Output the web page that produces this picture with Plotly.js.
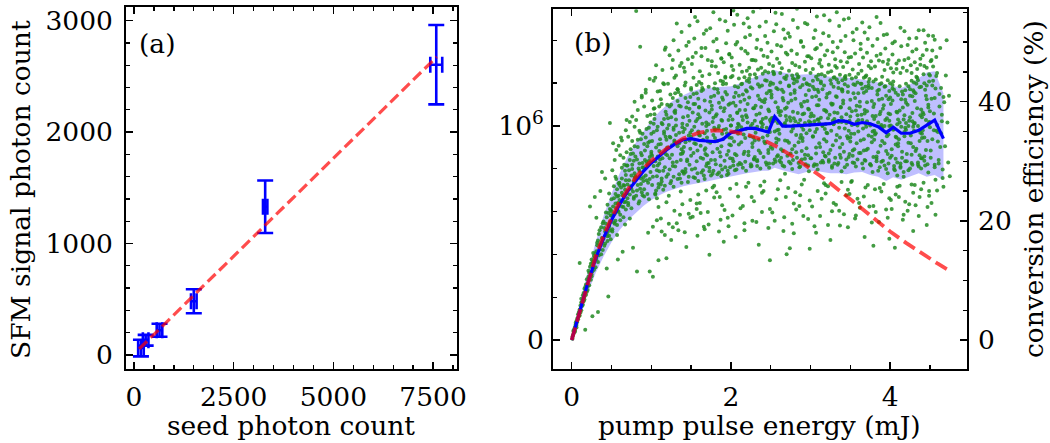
<!DOCTYPE html>
<html>
<head>
<meta charset="utf-8">
<script src="https://cdn.plot.ly/plotly-3.0.1.min.js"></script>
<style>html,body{margin:0;padding:0;background:#fff;}#chart{width:1050px;height:443px;}</style>
</head>
<body>
<div id="chart"></div>
<script>
// ---------- panel (a) data ----------
const seedX    = [175, 293, 640, 1500, 3290, 7580];
const seedXerr = [70, 70, 70, 70, 55, 150];
const sfmY     = [62, 132, 222, 482, 1330, 2605];
const sfmYerr  = [75, 48, 58, 108, 236, 356];
const fitX = [130, 7590];
const fitY = [54, 2675];
const aXTicks = [0, 2500, 5000, 7500];
const aXText  = ['0', '2500', '5000', '7500'];
const aYTicks = [0, 1000, 2000, 3000];
const aYText  = ['0', '1000', '2000', '3000'];

// ---------- panel (b) data (efficiency in %) ----------
const blueX = [0,0.1,0.2,0.3,0.4,0.5,0.6,0.7,0.8,0.9,1.0,1.1,1.2,1.3,1.4,1.5,1.6,1.7,1.8,1.9,2.0,2.1,2.2,2.3,2.4,
  2.47,2.55,2.65,2.75,2.85,2.95,3.05,3.15,3.25,3.35,3.45,3.55,3.65,3.75,3.85,3.95,
  4.04,4.14,4.25,4.36,4.46,4.56,4.67];
const blueY = [0,4.8,9.5,13.6,17.1,20.1,22.7,24.9,26.7,28.3,29.7,30.9,32.0,32.9,33.6,33.8,33.5,33.4,33.3,33.7,34.8,35.1,35.5,35.5,35.1,
  34.9,37.5,35.9,35.9,36.0,36.1,36.2,36.2,36.3,36.8,36.7,36.2,36.5,36.3,35.8,34.8,
  35.7,34.7,34.7,35.2,36.0,36.9,33.8];
const bandHi = [0.3,5.9,11.4,16.4,20.8,24.6,27.9,30.7,33.0,35.0,36.8,38.3,39.5,40.4,41.1,41.7,42.1,42.3,42.4,42.5,42.6,43.0,43.6,44.2,44.7,
  44.9,45.3,44.9,44.7,44.5,44.6,44.6,44.4,44.2,44.2,44.1,43.9,43.7,43.5,43.2,42.9,
  42.6,42.3,42.9,44.0,44.9,45.1,41.4];
const bandLo = [-0.2,3.9,7.8,11.2,14.0,16.4,18.4,20.0,21.3,22.5,23.5,24.3,24.9,25.4,25.8,26.1,26.3,26.6,26.9,27.2,27.5,27.8,28.0,28.2,28.4,
  28.4,28.9,28.5,28.2,27.8,28.2,28.4,28.2,28.0,28.0,27.8,28.1,28.2,27.7,27.4,26.7,
  27.3,26.9,27.5,28.0,27.4,27.7,26.8];
const redX = [0,0.1,0.2,0.3,0.4,0.5,0.6,0.7,0.8,0.9,1.0,1.2,1.4,1.6,1.8,2.0,2.2,2.4,2.6,2.8,3.0,3.2,3.4,3.6,3.8,4.0,4.2,4.4,4.6,4.75];
const redY = [0,4.8,9.6,14.0,17.5,20.5,23.1,25.3,27.2,28.8,30.1,32.2,33.8,34.8,35.2,35.0,34.5,33.6,32.3,30.6,28.7,26.8,24.7,22.5,20.3,18.2,16.3,14.5,12.8,11.6];

// scattered shots (wide spread, incl. outliers)
const greenX = [
  0.01,0.02,0.02,0.03,0.04,0.04,0.05,0.06,0.06,0.07,0.08,0.08,0.09,0.10,
  0.10,0.11,0.12,0.12,0.13,0.14,0.14,0.15,0.16,0.16,0.17,0.18,0.19,0.19,
  0.20,0.21,0.22,0.23,0.23,0.24,0.25,0.25,0.26,0.26,0.27,0.28,0.29,0.29,
  0.30,0.31,0.31,0.32,0.33,0.33,0.34,0.35,0.35,0.36,0.37,0.38,0.38,0.39,
  0.40,0.41,0.42,0.42,0.43,0.44,0.45,0.45,0.46,0.47,0.47,0.48,0.49,0.49,
  0.50,0.51,0.52,0.52,0.53,0.54,0.55,0.55,0.56,0.57,0.57,0.58,0.59,0.59,
  0.60,0.61,0.62,0.63,0.63,0.64,0.65,0.65,0.66,0.67,0.68,0.68,0.69,0.69,
  0.70,0.71,0.72,0.73,0.73,0.74,0.75,0.76,0.76,0.77,0.78,0.78,0.79,0.79,
  0.80,0.81,0.82,0.82,0.83,0.84,0.85,0.85,0.86,0.87,0.87,0.88,0.89,0.89,
  0.90,0.91,0.91,0.92,0.93,0.94,0.94,0.95,0.96,0.96,0.97,0.98,0.98,0.99,
  1.00,1.01,1.02,1.03,1.03,1.04,1.05,1.05,1.06,1.07,1.07,1.08,1.08,1.09,1.09,1.10,
  1.10,1.11,1.12,1.13,1.13,1.14,1.15,1.15,1.16,1.17,1.17,1.18,1.18,1.19,1.19,1.20,
  1.20,1.21,1.22,1.23,1.23,1.24,1.25,1.25,1.26,1.27,1.27,1.28,1.28,1.29,1.29,1.30,
  1.30,1.31,1.32,1.33,1.33,1.34,1.35,1.35,1.36,1.37,1.37,1.38,1.38,1.39,1.39,1.40,
  1.40,1.41,1.42,1.43,1.43,1.44,1.45,1.45,1.46,1.47,1.47,1.48,1.48,1.49,1.49,1.50,
  1.50,1.51,1.52,1.53,1.53,1.54,1.55,1.55,1.56,1.57,1.57,1.58,1.58,1.59,1.59,1.60,
  1.60,1.61,1.62,1.63,1.63,1.64,1.65,1.65,1.66,1.67,1.67,1.68,1.68,1.69,1.69,1.70,
  1.70,1.71,1.72,1.73,1.73,1.74,1.75,1.75,1.76,1.77,1.77,1.78,1.78,1.79,1.79,1.80,
  1.80,1.81,1.82,1.83,1.83,1.84,1.85,1.85,1.86,1.87,1.87,1.88,1.88,1.89,1.89,1.90,
  1.90,1.91,1.92,1.93,1.93,1.94,1.95,1.95,1.96,1.97,1.97,1.98,1.98,1.99,1.99,2.00,
  2.00,2.01,2.02,2.03,2.03,2.04,2.05,2.05,2.06,2.07,2.07,2.08,2.08,2.09,2.09,2.10,
  2.10,2.11,2.12,2.13,2.13,2.14,2.15,2.15,2.16,2.17,2.17,2.18,2.18,2.19,2.19,2.20,
  2.20,2.21,2.22,2.23,2.23,2.24,2.25,2.25,2.26,2.27,2.27,2.28,2.28,2.29,2.29,2.30,
  2.30,2.31,2.32,2.33,2.33,2.34,2.35,2.35,2.36,2.37,2.37,2.38,2.38,2.39,2.39,2.40,
  2.40,2.41,2.42,2.43,2.43,2.44,2.45,2.45,2.46,2.47,2.47,2.48,2.48,2.49,2.49,2.50,
  2.50,2.51,2.52,2.53,2.53,2.54,2.55,2.55,2.56,2.57,2.57,2.58,2.58,2.59,2.59,2.60,
  2.60,2.61,2.62,2.63,2.63,2.64,2.65,2.65,2.66,2.67,2.67,2.68,2.68,2.69,2.69,2.70,
  2.70,2.71,2.72,2.73,2.73,2.74,2.75,2.75,2.76,2.77,2.77,2.78,2.78,2.79,2.79,2.80,
  2.80,2.81,2.82,2.83,2.83,2.84,2.85,2.85,2.86,2.87,2.87,2.88,2.88,2.89,2.89,2.90,
  2.90,2.91,2.92,2.93,2.93,2.94,2.95,2.95,2.96,2.97,2.97,2.98,2.98,2.99,2.99,3.00,
  3.00,3.01,3.02,3.03,3.03,3.04,3.05,3.05,3.06,3.07,3.07,3.08,3.08,3.09,3.09,3.10,
  3.10,3.11,3.12,3.13,3.13,3.14,3.15,3.15,3.16,3.17,3.17,3.18,3.18,3.19,3.19,3.20,
  3.20,3.21,3.22,3.23,3.23,3.24,3.25,3.25,3.26,3.27,3.27,3.28,3.28,3.29,3.29,3.30,
  3.30,3.31,3.32,3.33,3.33,3.34,3.35,3.35,3.36,3.37,3.37,3.38,3.38,3.39,3.39,3.40,
  3.40,3.41,3.42,3.43,3.43,3.44,3.45,3.45,3.46,3.47,3.47,3.48,3.48,3.49,3.49,3.50,
  3.50,3.51,3.52,3.53,3.53,3.54,3.55,3.55,3.56,3.57,3.57,3.58,3.58,3.59,3.59,3.60,
  3.60,3.61,3.62,3.63,3.63,3.64,3.65,3.65,3.66,3.67,3.67,3.68,3.68,3.69,3.69,3.70,
  3.70,3.71,3.72,3.73,3.73,3.74,3.75,3.75,3.76,3.77,3.77,3.78,3.78,3.79,3.79,3.80,
  3.80,3.81,3.82,3.83,3.83,3.84,3.85,3.85,3.86,3.87,3.87,3.88,3.88,3.89,3.89,3.90,
  3.90,3.91,3.92,3.93,3.93,3.94,3.95,3.95,3.96,3.97,3.97,3.98,3.98,3.99,3.99,4.00,
  4.00,4.01,4.02,4.03,4.03,4.04,4.05,4.05,4.06,4.07,4.07,4.08,4.08,4.09,4.09,4.10,
  4.10,4.11,4.12,4.13,4.13,4.14,4.15,4.15,4.16,4.17,4.17,4.18,4.18,4.19,4.19,4.20,
  4.20,4.21,4.22,4.23,4.23,4.24,4.25,4.25,4.26,4.27,4.27,4.28,4.28,4.29,4.29,4.30,
  4.30,4.31,4.32,4.33,4.33,4.34,4.35,4.35,4.36,4.37,4.37,4.38,4.38,4.39,4.39,4.40,
  4.40,4.41,4.42,4.43,4.43,4.44,4.45,4.45,4.46,4.46,4.47,4.48,4.48,4.49,4.49,4.50,
  4.50,4.51,4.52,4.53,4.54,4.55,4.56,4.56,4.57,4.58,4.59,4.60,
  4.61,4.62,4.63,4.64,4.65,4.66,4.67,4.68,4.69,4.70,
  4.71,4.72,4.73,4.74,4.75
];
const greenY = [
  0.6,0.9,1.5,1.3,2.2,1.6,2.6,3.2,2.5,3.6,3.5,4.3,4.0,5.1,
  12.9,5.8,5.0,6.9,6.4,7.5,5.9,7.9,6.8,8.6,1.7,9.3,8.1,10.2,
  8.4,11.6,9.2,22.4,12.3,10.1,13.5,11.0,4.0,12.9,14.6,11.8,24.0,13.9,
  12.2,20.5,14.9,16.3,4.7,13.1,17.8,15.2,18.4,25.0,14.4,28.2,17.1,19.6,
  19.9,15.8,27.1,18.2,21.4,12.0,17.4,22.7,7.3,19.3,24.6,36.4,16.9,21.8,
  23.6,18.2,33.0,21.0,25.8,19.5,22.9,27.4,31.9,17.6,24.1,13.5,26.3,21.5,
  26.4,20.1,34.0,24.7,28.9,14.8,22.3,30.6,25.9,19.4,27.7,23.2,36.9,31.5,
  29.3,22.6,26.8,36.6,20.4,31.2,25.4,28.7,33.4,15.5,24.0,30.1,40.0,27.2,
  30.8,55.2,11.5,25.1,33.6,22.9,28.4,35.1,49.2,26.2,31.4,41.0,24.3,29.7,
  27.3,32.9,24.1,30.2,42.0,26.8,35.4,29.5,18.0,33.1,23.6,11.5,30.7,37.8,
  31.6,26.0,10.6,34.9,29.2,37.1,24.4,44.0,32.3,27.5,20.1,30.8,35.8,13.4,25.6,39.2,
  28.3,33.7,26.1,18.2,36.4,30.5,43.1,25.2,34.6,48.7,29.0,38.3,31.9,13.7,27.4,35.5,
  31.0,37.2,19.5,28.6,34.1,26.3,16.8,39.5,32.7,47.0,29.8,35.6,25.7,44.0,33.2,38.1,
  29.1,36.0,53.1,27.0,32.5,18.4,39.3,34.8,21.0,30.2,41.1,46.5,26.4,35.7,31.3,28.2,
  37.4,27.9,45.0,33.2,40.6,15.6,30.0,36.1,26.5,50.0,34.3,29.4,38.8,20.5,32.1,42.3,
  30.9,35.2,47.5,27.3,39.6,33.0,54.2,28.8,36.7,22.0,41.4,17.5,31.8,26.7,37.9,34.4,
  39.1,23.0,32.6,49.0,28.1,36.3,30.4,42.0,19.0,34.7,27.0,38.5,31.2,52.0,35.9,29.6,
  34.0,21.5,29.7,14.3,38.2,33.1,27.6,40.8,46.0,31.5,36.6,55.0,28.4,42.2,25.9,35.3,
  30.2,37.6,50.5,27.8,33.4,41.5,18.2,35.9,24.0,29.3,39.0,47.2,32.5,36.8,28.6,43.4,
  33.7,16.5,38.9,53.5,29.0,35.4,41.2,31.1,20.5,36.9,27.9,48.0,34.0,39.7,30.5,44.1,
  36.0,46.0,30.4,55.3,39.8,33.3,28.5,42.6,17.3,35.1,31.0,50.0,38.2,29.4,34.6,41.0,
  32.8,38.6,57.0,29.5,35.7,43.0,22.5,36.9,31.2,19.6,40.3,48.5,33.9,28.4,37.7,45.2,
  37.4,54.0,31.6,52.5,40.7,34.2,29.1,42.4,24.0,36.3,33.0,47.0,38.9,30.3,35.5,44.6,
  30.7,39.3,49.0,35.8,29.2,42.9,16.0,33.6,38.0,55.8,31.4,45.7,36.5,21.5,40.1,34.0,
  37.1,25.0,33.3,51.0,40.4,29.8,35.6,43.5,47.5,31.9,38.7,28.9,41.8,13.4,34.9,36.6,
  32.4,41.2,56.5,37.3,29.6,44.8,20.0,35.0,39.9,53.0,33.1,49.5,30.8,42.1,36.4,38.5,
  35.3,30.1,43.2,38.4,32.0,54.7,29.3,40.6,18.3,36.2,44.0,33.5,27.9,48.2,37.6,14.4,
  39.0,33.4,51.5,29.9,42.7,15.4,36.8,31.3,40.2,46.5,28.7,35.5,43.9,17.9,37.2,32.6,
  41.5,24.8,34.4,55.6,30.6,38.1,44.2,33.2,22.5,36.9,29.1,50.0,39.6,31.7,35.8,42.8,
  33.9,20.8,40.0,53.2,36.4,29.5,43.1,34.7,47.6,31.0,38.8,28.3,41.9,15.3,35.2,37.5,
  30.5,38.0,56.2,34.1,42.5,29.2,19.1,36.7,52.0,32.3,40.9,49.0,35.4,28.6,43.7,37.0,
  39.4,33.0,47.0,29.8,37.3,23.7,42.1,35.9,31.5,54.5,38.6,44.3,30.9,26.0,36.2,40.7,
  34.8,41.3,19.3,51.0,30.2,37.8,16.8,43.6,35.1,28.9,39.5,48.3,32.7,44.0,36.3,29.6,
  38.2,46.0,33.5,55.0,40.8,29.4,36.6,43.2,21.7,34.0,31.1,50.2,39.1,28.3,37.4,42.0,
  32.9,39.7,53.8,35.5,29.0,43.8,24.3,37.9,34.2,18.9,41.6,47.4,30.7,36.8,44.5,33.3,
  40.3,26.5,36.1,51.6,31.8,42.9,34.6,29.7,20.4,38.5,44.1,56.0,33.0,37.7,30.3,41.4,
  35.0,23.0,39.2,48.8,31.4,43.0,53.3,36.9,28.8,41.5,33.7,17.3,38.0,30.1,44.2,35.8,
  31.9,38.4,50.5,34.3,42.3,22.4,36.0,29.5,46.8,40.1,33.2,37.6,28.2,15.8,43.4,35.1,
  39.6,25.3,34.7,54.2,30.8,41.8,36.5,28.4,19.8,37.9,42.9,48.0,32.6,35.7,29.9,40.5,
  33.4,38.8,51.2,29.3,35.9,42.6,21.9,31.7,37.2,46.3,28.0,40.4,34.5,17.0,36.8,30.6,
  37.9,23.5,32.0,49.8,40.2,35.3,28.7,42.0,15.5,34.1,30.4,45.5,38.3,27.6,36.2,41.1,
  33.0,24.0,38.5,52.4,29.1,35.8,41.7,31.6,20.2,37.0,27.4,47.0,34.2,40.3,30.0,36.4,
  39.8,31.2,49.5,35.9,28.5,22.8,37.4,42.1,33.0,44.8,29.7,36.7,40.9,18.3,32.4,35.1,
  36.3,26.0,41.4,50.7,32.1,38.9,29.4,43.6,20.8,35.2,31.0,46.2,37.7,28.8,42.5,34.6,
  30.5,38.2,52.0,34.0,43.1,29.3,36.9,41.0,19.3,48.7,33.4,39.5,28.1,25.0,44.6,35.7,
  38.4,31.8,47.0,42.7,51.0,35.2,29.0,40.6,21.0,44.3,36.1,33.3,
  30.2,41.3,49.0,34.7,37.8,27.2,25.7,39.9,32.5,44.4,
  50.3,36.5,29.8,41.0,27.5
];
// shots in the dense core of the distribution
const coreX = [
  0.01,0.03,0.04,0.05,0.06,0.07,0.09,0.10,
  0.11,0.12,0.13,0.15,0.16,0.17,0.18,0.20,
  0.21,0.22,0.24,0.25,0.26,0.27,0.28,0.30,
  0.31,0.32,0.33,0.34,0.36,0.37,0.38,0.39,
  0.40,0.41,0.42,0.43,0.43,0.44,0.45,0.45,0.46,0.47,0.47,0.48,0.48,0.49,0.49,0.50,
  0.50,0.51,0.52,0.53,0.53,0.54,0.55,0.55,0.56,0.57,0.57,0.58,0.58,0.59,0.59,0.60,
  0.60,0.61,0.62,0.63,0.63,0.64,0.65,0.65,0.66,0.67,0.67,0.68,0.68,0.69,0.69,0.70,
  0.70,0.71,0.72,0.73,0.73,0.74,0.75,0.75,0.76,0.77,0.77,0.78,0.78,0.79,0.79,0.80,
  0.80,0.81,0.82,0.83,0.83,0.84,0.85,0.85,0.86,0.87,0.87,0.88,0.88,0.89,0.89,0.90,
  0.90,0.91,0.92,0.93,0.93,0.94,0.95,0.95,0.96,0.97,0.97,0.98,0.98,0.99,0.99,1.00,
  1.05,1.09,1.01,1.07,1.03,1.10,1.06,1.00,1.08,1.04,1.02,1.09,1.05,1.07,1.01,1.03,
  1.18,1.13,1.16,1.10,1.19,1.12,1.17,1.14,1.11,1.20,1.15,1.18,1.13,1.16,1.19,1.12,
  1.20,1.21,1.22,1.23,1.23,1.24,1.25,1.25,1.26,1.27,1.27,1.28,1.28,1.29,1.29,1.30,
  1.35,1.39,1.31,1.37,1.33,1.40,1.36,1.30,1.38,1.34,1.32,1.39,1.35,1.37,1.31,1.33,
  1.48,1.43,1.46,1.40,1.49,1.42,1.47,1.44,1.41,1.50,1.45,1.48,1.43,1.46,1.49,1.42,
  1.50,1.51,1.52,1.53,1.53,1.54,1.55,1.55,1.56,1.57,1.57,1.58,1.58,1.59,1.59,1.60,
  1.65,1.69,1.61,1.67,1.63,1.70,1.66,1.60,1.68,1.64,1.62,1.69,1.65,1.67,1.61,1.63,
  1.78,1.73,1.76,1.70,1.79,1.72,1.77,1.74,1.71,1.80,1.75,1.78,1.73,1.76,1.79,1.72,
  1.80,1.81,1.82,1.83,1.83,1.84,1.85,1.85,1.86,1.87,1.87,1.88,1.88,1.89,1.89,1.90,
  1.95,1.99,1.91,1.97,1.93,2.00,1.96,1.90,1.98,1.94,1.92,1.99,1.95,1.97,1.91,1.93,
  2.08,2.03,2.06,2.00,2.09,2.02,2.07,2.04,2.01,2.10,2.05,2.08,2.03,2.06,2.09,2.02,
  2.10,2.11,2.12,2.13,2.13,2.14,2.15,2.15,2.16,2.17,2.17,2.18,2.18,2.19,2.19,2.20,
  2.25,2.29,2.21,2.27,2.23,2.30,2.26,2.20,2.28,2.24,2.22,2.29,2.25,2.27,2.21,2.23,
  2.38,2.33,2.36,2.30,2.39,2.32,2.37,2.34,2.31,2.40,2.35,2.38,2.33,2.36,2.39,2.32,
  2.40,2.41,2.42,2.43,2.43,2.44,2.45,2.45,2.46,2.47,2.47,2.48,2.48,2.49,2.49,2.50,
  2.55,2.59,2.51,2.57,2.53,2.60,2.56,2.50,2.58,2.54,2.52,2.59,2.55,2.57,2.51,2.53,
  2.68,2.63,2.66,2.60,2.69,2.62,2.67,2.64,2.61,2.70,2.65,2.68,2.63,2.66,2.69,2.62,
  2.70,2.71,2.72,2.73,2.73,2.74,2.75,2.75,2.76,2.77,2.77,2.78,2.78,2.79,2.79,2.80,
  2.85,2.89,2.81,2.87,2.83,2.90,2.86,2.80,2.88,2.84,2.82,2.89,2.85,2.87,2.81,2.83,
  2.98,2.93,2.96,2.90,2.99,2.92,2.97,2.94,2.91,3.00,2.95,2.98,2.93,2.96,2.99,2.92,
  3.00,3.01,3.02,3.03,3.03,3.04,3.05,3.05,3.06,3.07,3.07,3.08,3.08,3.09,3.09,3.10,
  3.15,3.19,3.11,3.17,3.13,3.20,3.16,3.10,3.18,3.14,3.12,3.19,3.15,3.17,3.11,3.13,
  3.28,3.23,3.26,3.20,3.29,3.22,3.27,3.24,3.21,3.30,3.25,3.28,3.23,3.26,3.29,3.22,
  3.30,3.31,3.32,3.33,3.33,3.34,3.35,3.35,3.36,3.37,3.37,3.38,3.38,3.39,3.39,3.40,
  3.45,3.49,3.41,3.47,3.43,3.50,3.46,3.40,3.48,3.44,3.42,3.49,3.45,3.47,3.41,3.43,
  3.58,3.53,3.56,3.50,3.59,3.52,3.57,3.54,3.51,3.60,3.55,3.58,3.53,3.56,3.59,3.52,
  3.60,3.61,3.62,3.63,3.63,3.64,3.65,3.65,3.66,3.67,3.67,3.68,3.68,3.69,3.69,3.70,
  3.75,3.79,3.71,3.77,3.73,3.80,3.76,3.70,3.78,3.74,3.72,3.79,3.75,3.77,3.71,3.73,
  3.88,3.83,3.86,3.80,3.89,3.82,3.87,3.84,3.81,3.90,3.85,3.88,3.83,3.86,3.89,3.82,
  3.90,3.91,3.92,3.93,3.93,3.94,3.95,3.95,3.96,3.97,3.97,3.98,3.98,3.99,3.99,4.00,
  4.05,4.09,4.01,4.07,4.03,4.10,4.06,4.00,4.08,4.04,4.02,4.09,4.05,4.07,4.01,4.03,
  4.18,4.13,4.16,4.10,4.19,4.12,4.17,4.14,4.11,4.20,4.15,4.18,4.13,4.16,4.19,4.12,
  4.20,4.21,4.22,4.23,4.23,4.24,4.25,4.25,4.26,4.27,4.27,4.28,4.28,4.29,4.29,4.30,
  4.35,4.39,4.31,4.37,4.33,4.40,4.36,4.30,4.38,4.34,4.32,4.39,4.35,4.37,4.31,4.33,
  4.48,4.43,4.46,4.40,4.49,4.42,4.47,4.44,4.41,4.50,4.45,4.48,4.43,4.46,4.49,4.42,
  4.50,4.51,4.52,4.53,4.54,4.55,4.56,4.57,4.58,4.59,
  4.60,4.61,4.62,4.63,4.64,4.65,4.66,4.67
];
const coreY = [
  0.2,1.8,1.4,2.9,2.1,3.0,4.7,4.1,
  4.6,6.3,5.7,6.5,7.3,8.9,7.6,9.0,
  10.6,11.3,12.8,10.7,11.5,13.2,14.1,14.5,
  13.6,15.9,16.7,14.2,16.0,18.9,16.4,15.1,
  17.0,18.8,16.2,19.5,17.7,20.6,18.1,16.6,21.3,19.0,17.5,22.0,19.8,18.4,20.9,21.6,
  20.9,18.6,22.4,19.7,23.8,21.2,24.5,20.0,22.1,25.3,19.3,23.0,21.7,24.2,22.8,26.0,
  23.5,21.0,25.6,22.4,27.1,24.3,20.6,26.0,23.1,28.4,25.2,21.9,26.8,24.6,29.3,23.8,
  26.1,23.0,28.5,24.4,30.2,25.8,22.1,27.6,29.4,24.9,31.3,26.6,23.7,28.0,32.5,27.3,
  27.5,24.2,30.3,26.0,32.4,28.8,23.3,29.6,25.4,33.7,27.1,31.0,24.8,29.0,34.6,26.7,
  28.9,25.3,31.8,27.6,34.0,29.9,24.5,32.5,26.4,35.6,30.1,27.0,33.3,28.2,36.5,31.2,
  30.0,26.2,33.4,28.5,36.3,31.7,25.1,34.6,29.3,37.9,27.4,32.8,24.6,35.2,30.9,38.8,
  31.2,27.1,35.0,29.6,37.8,32.9,25.9,36.2,30.3,39.5,28.4,34.1,26.6,37.1,33.6,40.4,
  32.3,27.8,36.1,30.5,39.2,34.0,26.7,37.4,31.1,40.6,29.2,35.3,27.4,38.3,33.5,41.4,
  33.0,28.3,37.0,31.2,40.1,34.9,27.1,38.5,32.0,41.6,29.9,36.3,27.8,39.2,34.4,42.1,
  33.5,28.7,37.6,31.6,40.8,35.4,27.4,39.0,32.4,42.0,30.3,36.8,28.2,39.9,34.8,42.7,
  34.1,28.6,38.2,31.4,41.3,35.8,27.2,39.6,32.9,42.8,30.0,37.1,28.0,40.5,35.0,43.3,
  33.6,29.2,37.4,31.9,41.8,35.1,27.6,39.0,32.2,42.3,30.6,36.5,28.5,40.2,34.3,43.0,
  34.4,28.9,38.7,31.0,41.0,36.2,27.9,40.0,33.3,43.1,30.2,37.3,28.3,39.3,35.6,42.5,
  33.9,29.5,37.9,32.1,42.1,35.5,28.1,39.8,31.5,43.5,30.8,36.9,27.5,40.7,34.6,42.9,
  34.7,29.0,38.4,31.7,41.6,36.0,28.4,40.3,32.8,43.0,30.1,37.6,27.7,39.5,35.3,44.0,
  35.6,30.0,39.3,32.7,42.4,37.0,28.6,40.8,33.9,43.9,31.2,38.1,29.3,41.5,36.3,44.3,
  36.1,29.7,40.0,33.2,42.9,37.5,28.9,41.2,34.5,44.1,31.6,38.6,29.9,41.9,35.4,43.5,
  35.9,30.4,39.6,32.4,43.3,36.8,29.2,41.7,34.0,44.5,31.0,38.9,29.5,42.2,36.5,43.9,
  36.6,30.2,40.4,33.5,42.7,37.8,28.8,41.0,34.8,44.7,31.8,39.1,30.0,42.5,35.7,44.0,
  36.2,30.7,39.9,33.0,43.6,37.3,29.4,41.4,34.3,44.9,31.4,38.4,29.6,42.8,36.9,43.2,
  36.8,31.0,40.7,33.8,43.0,38.2,29.9,41.8,35.2,44.6,32.1,39.0,30.3,42.3,37.2,45.0,
  36.4,30.6,40.2,33.6,43.8,37.7,29.1,42.0,34.6,44.3,31.7,38.8,29.8,41.6,35.9,44.8,
  36.9,30.9,39.8,33.1,42.6,37.4,29.6,41.3,35.0,44.4,32.0,38.3,30.2,43.1,36.0,43.7,
  36.3,30.3,40.5,33.9,43.4,37.9,29.0,41.9,34.4,44.0,31.5,39.2,29.7,42.4,36.7,44.6,
  36.7,31.1,40.1,33.4,42.8,38.0,29.3,41.1,35.3,44.8,32.2,38.7,30.4,42.9,36.1,43.8,
  36.5,30.5,40.8,34.2,43.5,37.6,29.5,42.1,34.9,44.2,31.3,39.4,29.4,42.0,37.0,44.5,
  36.0,30.8,40.3,33.7,43.1,38.3,29.8,41.6,35.4,44.6,32.4,38.5,30.1,42.7,36.4,43.4,
  36.8,31.3,39.7,33.3,42.5,37.2,29.2,41.5,34.7,44.1,31.9,39.6,29.9,43.0,36.2,44.9,
  37.1,30.6,40.9,34.4,43.7,38.1,29.7,42.3,35.6,44.5,32.3,39.0,30.6,42.1,36.6,43.6,
  36.4,31.2,40.2,33.8,42.9,37.5,29.4,41.7,35.1,44.3,31.6,38.9,30.3,42.6,36.8,44.1,
  36.6,30.9,40.6,34.0,43.2,38.4,29.1,41.4,34.6,44.7,32.0,39.3,29.8,42.8,36.0,43.9,
  36.9,31.4,40.0,33.5,43.0,37.8,29.6,42.2,35.5,44.0,31.8,38.6,30.2,42.5,36.3,44.4,
  36.2,30.7,39.9,34.1,42.7,37.1,29.3,41.8,35.0,43.8,32.1,39.1,29.5,42.3,36.7,43.3,
  35.8,30.4,40.3,33.6,43.1,37.6,29.0,41.2,34.5,44.2,31.5,38.3,30.0,42.0,36.1,43.7,
  35.5,30.1,39.4,33.0,42.5,36.9,28.7,41.0,34.2,43.6,31.2,38.0,29.6,41.8,35.9,43.1,
  35.4,29.8,39.6,32.8,42.2,37.0,28.5,40.7,34.0,43.4,30.9,38.2,29.2,41.5,36.0,42.8,
  34.9,29.6,39.0,32.5,41.9,36.5,28.2,40.4,33.7,43.0,30.6,37.7,28.9,41.2,35.6,42.6,
  35.3,30.0,39.5,33.1,42.6,36.8,28.8,41.0,34.3,43.5,31.1,38.1,29.4,41.9,35.8,43.2,
  35.9,30.5,40.1,33.4,43.0,37.4,29.1,41.6,34.8,44.0,31.7,38.7,29.8,42.4,36.4,44.2,
  36.2,30.8,40.4,33.9,43.4,37.9,29.5,42.0,35.2,44.4,31.9,39.0,30.1,42.7,36.6,44.6,
  36.5,30.6,40.5,33.7,43.5,38.0,29.4,42.2,35.1,44.8,
  34.9,29.6,39.2,32.4,42.3,36.7,28.6,40.8
];
// shots just outside the core (above and below it)
const haloX = [
  0.51,0.54,0.56,0.59, 0.61,0.63,0.66,0.68, 0.71,0.74,0.76,0.79, 0.81,0.83,0.86,0.88, 0.91,0.93,0.95,0.98,
  1.01,1.03,1.04,1.06,1.08,1.09,1.02,1.07,
  1.11,1.13,1.14,1.16,1.18,1.19,1.12,1.17,
  1.21,1.23,1.24,1.26,1.28,1.29,1.22,1.27,
  1.31,1.33,1.34,1.36,1.38,1.39,1.32,1.37,
  1.41,1.43,1.44,1.46,1.48,1.49,1.42,1.47,
  1.51,1.53,1.54,1.56,1.58,1.59,1.52,1.57,
  1.61,1.63,1.64,1.66,1.68,1.69,1.62,1.67,
  1.71,1.73,1.74,1.76,1.78,1.79,1.72,1.77,
  1.81,1.83,1.84,1.86,1.88,1.89,1.82,1.87,
  1.91,1.93,1.94,1.96,1.98,1.99,1.92,1.97,
  2.01,2.03,2.04,2.06,2.08,2.09,2.02,2.07,
  2.11,2.13,2.14,2.16,2.18,2.19,2.12,2.17,
  2.21,2.23,2.24,2.26,2.28,2.29,2.22,2.27,
  2.31,2.33,2.34,2.36,2.38,2.39,2.32,2.37,
  2.41,2.43,2.44,2.46,2.48,2.49,2.42,2.47,
  2.51,2.53,2.54,2.56,2.58,2.59,2.52,2.57,
  2.61,2.63,2.64,2.66,2.68,2.69,2.62,2.67,
  2.71,2.73,2.74,2.76,2.78,2.79,2.72,2.77,
  2.81,2.83,2.84,2.86,2.88,2.89,2.82,2.87,
  2.91,2.93,2.94,2.96,2.98,2.99,2.92,2.97,
  3.01,3.03,3.04,3.06,3.08,3.09,3.02,3.07,
  3.11,3.13,3.14,3.16,3.18,3.19,3.12,3.17,
  3.21,3.23,3.24,3.26,3.28,3.29,3.22,3.27,
  3.31,3.33,3.34,3.36,3.38,3.39,3.32,3.37,
  3.41,3.43,3.44,3.46,3.48,3.49,3.42,3.47,
  3.51,3.53,3.54,3.56,3.58,3.59,3.52,3.57,
  3.61,3.63,3.64,3.66,3.68,3.69,3.62,3.67,
  3.71,3.73,3.74,3.76,3.78,3.79,3.72,3.77,
  3.81,3.83,3.84,3.86,3.88,3.89,3.82,3.87,
  3.91,3.93,3.94,3.96,3.98,3.99,3.92,3.97,
  4.01,4.03,4.04,4.06,4.08,4.09,4.02,4.07,
  4.11,4.13,4.14,4.16,4.18,4.19,4.12,4.17,
  4.21,4.23,4.24,4.26,4.28,4.29,4.22,4.27,
  4.31,4.33,4.34,4.36,4.38,4.39,4.32,4.37,
  4.41,4.43,4.44,4.46,4.48,4.49,4.42,4.47,
  4.51,4.53,4.54,4.56,4.58,4.59,4.52,4.57
];
const haloY = [
  28.5,30.2,27.0,32.6, 31.0,33.5,29.4,35.2, 34.1,32.0,37.5,35.8, 36.9,38.6,34.8,40.7, 39.2,41.5,37.6,43.8,
  40.2,43.5,38.9,46.1,41.7,22.3,19.0,23.8,
  41.8,39.6,45.3,42.9,49.1,23.1,20.4,17.6,
  43.0,47.8,41.2,45.6,50.3,21.7,24.2,18.9,
  44.4,42.1,48.6,46.0,51.7,22.8,19.6,24.9,
  45.7,43.2,49.4,47.1,52.8,23.5,18.1,21.2,
  46.3,44.0,50.6,48.2,53.5,24.4,20.7,22.9,
  45.1,47.6,44.3,51.4,49.0,25.1,21.3,18.6,
  47.0,44.6,52.3,46.8,50.1,23.9,19.4,25.6,
  45.9,48.5,44.8,53.8,47.3,22.6,24.8,20.2,
  46.6,44.2,49.8,51.9,47.9,25.4,21.8,19.1,
  47.4,45.3,52.9,49.6,54.6,24.1,20.9,26.2,
  46.2,48.9,45.0,53.1,50.8,25.7,22.1,18.4,
  48.1,45.7,51.2,47.0,55.1,23.3,26.4,20.0,
  46.9,50.4,45.4,52.6,48.7,24.7,19.8,25.9,
  47.7,45.1,53.4,49.9,46.3,22.0,26.6,18.8,
  48.4,46.0,51.8,54.9,47.2,25.3,21.4,23.6,
  46.5,49.3,45.6,52.1,50.6,24.0,26.8,20.6,
  47.9,45.2,50.9,48.6,53.7,22.9,25.5,19.5,
  46.1,48.0,52.4,45.8,50.2,26.1,21.9,24.3,
  49.2,46.7,45.3,53.0,47.6,23.4,26.9,20.3,
  47.3,45.5,50.7,48.8,54.3,25.0,22.4,18.0,
  46.4,49.6,45.9,51.5,47.8,24.6,20.8,26.3,
  48.6,46.2,53.6,45.1,50.0,23.0,25.8,21.6,
  47.1,45.7,49.1,52.7,46.8,26.5,22.7,19.2,
  45.8,48.3,51.0,46.6,54.0,24.5,21.1,25.2,
  47.5,45.4,50.3,48.1,52.2,23.7,26.7,20.9,
  46.3,49.7,45.2,47.4,51.6,25.6,22.2,24.1,
  48.2,46.0,52.5,45.6,49.4,22.5,26.0,19.7,
  45.9,47.7,50.5,46.9,53.2,24.9,21.5,25.5,
  46.7,45.3,48.9,51.3,47.0,23.8,26.2,20.5,
  45.6,47.9,44.9,50.1,46.4,25.7,22.0,24.4,
  46.9,44.8,49.3,45.7,51.8,23.2,25.9,21.0,
  45.2,47.3,50.6,46.1,48.4,24.7,21.7,26.1,
  46.6,48.8,45.5,52.0,47.2,25.3,22.6,24.0,
  47.8,46.0,49.9,45.7,51.1,24.2,26.4,22.3,
  46.8,48.6,45.9,50.4,47.5,25.1,23.0,26.9
];
const bXTicks = [0, 2, 4];
const bLeftTicks = [0, 1e6];
const bLeftText = ['0', '10<sup>6</sup>'];
const bRightTicks = [0, 20, 40];

// ---------- styling ----------
const FONT = 'DejaVu Serif';
const FS = 26.5;
const tickFont = {family: FONT, size: FS, color: '#000'};
function axisBase(extra) {
  return Object.assign({
    ticks: 'inside', ticklen: 7, tickwidth: 1.5, tickcolor: '#000',
    showline: true, linewidth: 1.8, linecolor: '#000',
    showgrid: false, zeroline: false, tickfont: tickFont, tickmode: 'array'
  }, extra);
}
function minor(dt) {
  return {tickmode: 'linear', tick0: 0, dtick: dt, ticks: 'inside', ticklen: 4, tickwidth: 1.3, tickcolor: '#000', showgrid: false};
}
const greenStyle = {size: 4, color: 'rgba(34,139,34,0.85)'};

const traces = [
  {type: 'scatter', mode: 'markers', x: seedX, y: sfmY, xaxis: 'x', yaxis: 'y',
   marker: {size: 2, color: 'rgba(0,0,255,0)'},
   error_x: {type: 'data', array: seedXerr, color: '#0000ff', thickness: 2.6, width: 8},
   error_y: {type: 'data', array: sfmYerr, color: '#0000ff', thickness: 2.6, width: 8},
   hoverinfo: 'skip'},
  {type: 'scatter', mode: 'lines', x: fitX, y: fitY, xaxis: 'x', yaxis: 'y',
   line: {color: 'rgba(255,0,0,0.7)', width: 3.2, dash: '11px,5px'}},
  {type: 'scatter', mode: 'lines', x: [], y: [], xaxis: 'x2', yaxis: 'y2'},
  {type: 'scatter', mode: 'lines', x: blueX, y: bandLo, xaxis: 'x2', yaxis: 'y3',
   line: {width: 0, color: 'rgba(0,0,0,0)'}, hoverinfo: 'skip'},
  {type: 'scatter', mode: 'lines', x: blueX, y: bandHi, xaxis: 'x2', yaxis: 'y3',
   line: {width: 0, color: 'rgba(0,0,0,0)'}, fill: 'tonexty', fillcolor: 'rgba(0,0,255,0.25)', hoverinfo: 'skip'},
  {type: 'scatter', mode: 'markers', x: greenX, y: greenY, xaxis: 'x2', yaxis: 'y3', marker: greenStyle},
  {type: 'scatter', mode: 'markers', x: coreX, y: coreY, xaxis: 'x2', yaxis: 'y3', marker: greenStyle},
  {type: 'scatter', mode: 'markers', x: haloX, y: haloY, xaxis: 'x2', yaxis: 'y3', marker: greenStyle},
  {type: 'scatter', mode: 'lines', x: blueX, y: blueY, xaxis: 'x2', yaxis: 'y3',
   line: {color: '#0000ff', width: 3.2}},
  {type: 'scatter', mode: 'lines', x: redX, y: redY, xaxis: 'x2', yaxis: 'y3',
   line: {color: 'rgba(255,0,0,0.7)', width: 3.8, dash: '13px,6px'}}
];

const W = 1050, H = 443;
function label(text, px, py, angle) {
  return {text: text, xref: 'paper', yref: 'paper', x: px / W, y: 1 - py / H,
    xanchor: 'center', yanchor: 'middle', textangle: angle || 0, showarrow: false,
    font: {family: FONT, size: FS, color: '#000'}};
}
const layout = {
  width: W, height: H,
  margin: {l: 0, r: 0, t: 0, b: 0},
  paper_bgcolor: '#fff', plot_bgcolor: '#fff',
  showlegend: false,
  font: {family: FONT, color: '#000'},
  xaxis: axisBase({domain: [126/W, 457/W], range: [-200, 8100], tickvals: aXTicks, ticktext: aXText,
    mirror: 'ticks', anchor: 'y', minor: minor(500), ticklabelstandoff: 3}),
  yaxis: axisBase({domain: [74/H, 436/H], range: [-126, 3123], tickvals: aYTicks, ticktext: aYText,
    mirror: 'ticks', anchor: 'x', minor: minor(200), ticklabelstandoff: 6}),
  xaxis2: axisBase({domain: [553/W, 967/W], range: [-0.235, 4.966], tickvals: bXTicks,
    mirror: 'ticks', anchor: 'y2', minor: minor(0.5), ticklabelstandoff: 3}),
  yaxis2: axisBase({domain: [73.7/H, 433.7/H], range: [-0.137e6, 1.545e6], tickvals: bLeftTicks, ticktext: bLeftText,
    anchor: 'x2', side: 'left', minor: minor(2e5), ticklabelstandoff: 2}),
  yaxis3: axisBase({domain: [73.7/H, 433.7/H], range: [-4.92, 55.5], tickvals: bRightTicks,
    anchor: 'x2', side: 'right', overlaying: 'y2', minor: minor(5), ticklabelstandoff: 4}),
  annotations: [
    label('(a)', 157, 43),
    label('(b)', 593, 42),
    label('seed photon count', 291, 425),
    label('pump pulse energy (mJ)', 759, 425),
    label('SFM signal photon count', 20.5, 189.5, -90),
    label('conversion efficiency (%)', 1033, 189, -90)
  ]
};

Plotly.newPlot('chart', traces, layout, {displayModeBar: false, staticPlot: true});
</script>
</body>
</html>
